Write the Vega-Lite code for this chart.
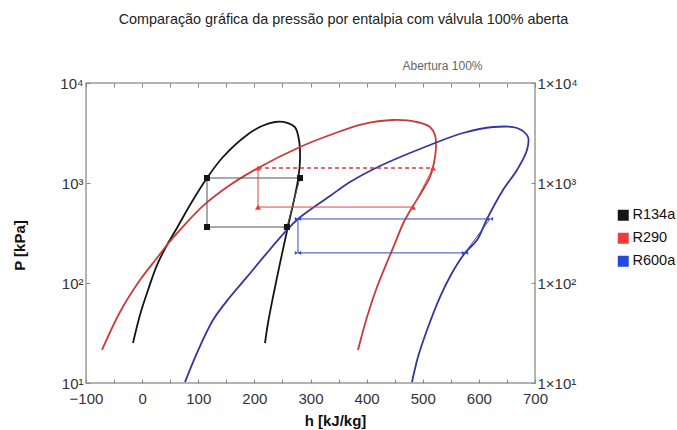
{
  "$schema": "https://vega.github.io/schema/vega-lite/v6.json",
  "width": 449,
  "height": 300,
  "autosize": {"type": "none"},
  "padding": {"left": 86, "top": 83, "right": 142, "bottom": 47},
  "background": "white",
  "title": {"text": "Comparação gráfica da pressão por entalpia com válvula 100% aberta", "fontSize": 14.4, "font": "Liberation Sans", "fontWeight": "normal", "color": "#222222", "anchor": "middle", "dx": 33, "offset": 32},
  "config": {
    "view": {"stroke": "#9a9a9a", "strokeWidth": 1.5},
    "axis": {"grid": false, "domain": false, "labelFont": "Liberation Sans", "titleFont": "Liberation Sans", "labelColor": "#333333", "tickColor": "#8a8a8a", "tickWidth": 1},
    "legend": {"symbolType": "square"}
  },
  "datasets": {
    "domes": [
      {"s": "R134a dome", "i": 1, "h": -16.3, "P": 25.1},
      {"s": "R134a dome", "i": 2, "h": -3.8, "P": 47.9},
      {"s": "R134a dome", "i": 3, "h": 10.5, "P": 85.1},
      {"s": "R134a dome", "i": 4, "h": 26.5, "P": 151},
      {"s": "R134a dome", "i": 5, "h": 44.3, "P": 240},
      {"s": "R134a dome", "i": 6, "h": 62.1, "P": 355},
      {"s": "R134a dome", "i": 7, "h": 85.3, "P": 603},
      {"s": "R134a dome", "i": 8, "h": 115.6, "P": 1122},
      {"s": "R134a dome", "i": 9, "h": 144.1, "P": 1820},
      {"s": "R134a dome", "i": 10, "h": 186.9, "P": 3020},
      {"s": "R134a dome", "i": 11, "h": 213.6, "P": 3715},
      {"s": "R134a dome", "i": 12, "h": 236.7, "P": 4074},
      {"s": "R134a dome", "i": 13, "h": 257.0, "P": 4020},
      {"s": "R134a dome", "i": 14, "h": 272.5, "P": 3600},
      {"s": "R134a dome", "i": 15, "h": 279.5, "P": 2692},
      {"s": "R134a dome", "i": 16, "h": 281.3, "P": 1698},
      {"s": "R134a dome", "i": 17, "h": 277.7, "P": 1072},
      {"s": "R134a dome", "i": 18, "h": 270.6, "P": 676},
      {"s": "R134a dome", "i": 19, "h": 261.7, "P": 407},
      {"s": "R134a dome", "i": 20, "h": 254.6, "P": 269},
      {"s": "R134a dome", "i": 21, "h": 245.7, "P": 158},
      {"s": "R134a dome", "i": 22, "h": 233.2, "P": 72.4},
      {"s": "R134a dome", "i": 23, "h": 224.3, "P": 39.8},
      {"s": "R134a dome", "i": 24, "h": 218.9, "P": 25.1},
      {"s": "R290 dome", "i": 1, "h": -71.5, "P": 21.4},
      {"s": "R290 dome", "i": 2, "h": -39.4, "P": 51.3},
      {"s": "R290 dome", "i": 3, "h": -3.8, "P": 107},
      {"s": "R290 dome", "i": 4, "h": 26.5, "P": 178},
      {"s": "R290 dome", "i": 5, "h": 44.3, "P": 240},
      {"s": "R290 dome", "i": 6, "h": 67.5, "P": 339},
      {"s": "R290 dome", "i": 7, "h": 108.5, "P": 590},
      {"s": "R290 dome", "i": 8, "h": 156.6, "P": 955},
      {"s": "R290 dome", "i": 9, "h": 206.5, "P": 1413},
      {"s": "R290 dome", "i": 10, "h": 281.3, "P": 2291},
      {"s": "R290 dome", "i": 11, "h": 334.7, "P": 3020},
      {"s": "R290 dome", "i": 12, "h": 393.5, "P": 3890},
      {"s": "R290 dome", "i": 13, "h": 447, "P": 4266},
      {"s": "R290 dome", "i": 14, "h": 489.8, "P": 4074},
      {"s": "R290 dome", "i": 15, "h": 512.9, "P": 3631},
      {"s": "R290 dome", "i": 16, "h": 521.8, "P": 3020},
      {"s": "R290 dome", "i": 17, "h": 523.6, "P": 2291},
      {"s": "R290 dome", "i": 18, "h": 520, "P": 1585},
      {"s": "R290 dome", "i": 19, "h": 512.9, "P": 1148},
      {"s": "R290 dome", "i": 20, "h": 497.0, "P": 794},
      {"s": "R290 dome", "i": 21, "h": 481.5, "P": 575},
      {"s": "R290 dome", "i": 22, "h": 465.5, "P": 398},
      {"s": "R290 dome", "i": 23, "h": 450.6, "P": 251},
      {"s": "R290 dome", "i": 24, "h": 438.1, "P": 170},
      {"s": "R290 dome", "i": 25, "h": 418.5, "P": 91.2},
      {"s": "R290 dome", "i": 26, "h": 400.7, "P": 45.7},
      {"s": "R290 dome", "i": 27, "h": 384.6, "P": 21.4},
      {"s": "R600a dome", "i": 1, "h": 76.4, "P": 10.2},
      {"s": "R600a dome", "i": 2, "h": 97.8, "P": 20.0},
      {"s": "R600a dome", "i": 3, "h": 126.3, "P": 42.7},
      {"s": "R600a dome", "i": 4, "h": 156.6, "P": 72.4},
      {"s": "R600a dome", "i": 5, "h": 186.9, "P": 115},
      {"s": "R600a dome", "i": 6, "h": 222.5, "P": 200},
      {"s": "R600a dome", "i": 7, "h": 258.1, "P": 339},
      {"s": "R600a dome", "i": 8, "h": 277.7, "P": 437},
      {"s": "R600a dome", "i": 9, "h": 334.7, "P": 741},
      {"s": "R600a dome", "i": 10, "h": 370.4, "P": 1023},
      {"s": "R600a dome", "i": 11, "h": 423.8, "P": 1479},
      {"s": "R600a dome", "i": 12, "h": 512.9, "P": 2399},
      {"s": "R600a dome", "i": 13, "h": 571.7, "P": 3162},
      {"s": "R600a dome", "i": 14, "h": 625.2, "P": 3631},
      {"s": "R600a dome", "i": 15, "h": 667.9, "P": 3548},
      {"s": "R600a dome", "i": 16, "h": 687.5, "P": 2884},
      {"s": "R600a dome", "i": 17, "h": 685.7, "P": 2138},
      {"s": "R600a dome", "i": 18, "h": 667.9, "P": 1349},
      {"s": "R600a dome", "i": 19, "h": 643, "P": 851},
      {"s": "R600a dome", "i": 20, "h": 614.5, "P": 437},
      {"s": "R600a dome", "i": 21, "h": 596.7, "P": 269},
      {"s": "R600a dome", "i": 22, "h": 575.3, "P": 200},
      {"s": "R600a dome", "i": 23, "h": 552.1, "P": 126},
      {"s": "R600a dome", "i": 24, "h": 530.7, "P": 72.4},
      {"s": "R600a dome", "i": 25, "h": 507.6, "P": 33.9},
      {"s": "R600a dome", "i": 26, "h": 491.5, "P": 18.2},
      {"s": "R600a dome", "i": 27, "h": 480.8, "P": 10.2}
    ],
    "cycles": [
      {"s": "R134a cycle", "i": 1, "h": 258, "P": 363},
      {"s": "R134a cycle", "i": 2, "h": 281.3, "P": 1122},
      {"s": "R134a cycle", "i": 3, "h": 115.6, "P": 1122},
      {"s": "R134a cycle", "i": 4, "h": 115.6, "P": 363},
      {"s": "R134a cycle", "i": 5, "h": 258, "P": 363},
      {"s": "R290 cycle", "i": 1, "h": 518.3, "P": 1413},
      {"s": "R290 cycle", "i": 2, "h": 482.6, "P": 575},
      {"s": "R290 cycle", "i": 3, "h": 206.5, "P": 575},
      {"s": "R290 cycle", "i": 4, "h": 206.5, "P": 1413},
      {"s": "R600a cycle", "i": 1, "h": 619.8, "P": 437},
      {"s": "R600a cycle", "i": 2, "h": 277.7, "P": 437},
      {"s": "R600a cycle", "i": 3, "h": 277.7, "P": 200},
      {"s": "R600a cycle", "i": 4, "h": 575.3, "P": 200},
      {"s": "R600a cycle", "i": 5, "h": 619.8, "P": 437}
    ],
    "dashes": [
      {"s": "R290 dash", "i": 1, "h": 206.5, "P": 1413},
      {"s": "R290 dash", "i": 2, "h": 518.3, "P": 1413}
    ],
    "markers": [
      {"fluid": "R134a", "h": 115.6, "P": 1122},
      {"fluid": "R134a", "h": 281.3, "P": 1122},
      {"fluid": "R134a", "h": 115.6, "P": 363},
      {"fluid": "R134a", "h": 258, "P": 363},
      {"fluid": "R290", "h": 206.5, "P": 1413},
      {"fluid": "R290", "h": 518.3, "P": 1413},
      {"fluid": "R290", "h": 206.5, "P": 575},
      {"fluid": "R290", "h": 482.6, "P": 575},
      {"fluid": "R600a", "h": 277.7, "P": 437},
      {"fluid": "R600a", "h": 619.8, "P": 437},
      {"fluid": "R600a", "h": 277.7, "P": 200},
      {"fluid": "R600a", "h": 575.3, "P": 200}
    ]
  },
  "resolve": {"axis": {"x": "independent", "y": "independent"}},
  "layer": [
    {
      "data": {"name": "domes"},
      "mark": {"type": "line", "strokeWidth": 1.8, "clip": true, "interpolate": "catmull-rom"},
      "encoding": {
        "x": {"field": "h", "type": "quantitative", "scale": {"domain": [-100, 700], "nice": false, "zero": false},
          "axis": {"orient": "bottom", "values": [-100, -50, 0, 50, 100, 150, 200, 250, 300, 350, 400, 450, 500, 550, 600, 650, 700], "labelExpr": "datum.value % 100 === 0 ? datum.label : ''", "tickSize": -4, "labelPadding": 12, "labelFontSize": 15, "labelFlush": false, "title": "h [kJ/kg]", "titleFontSize": 15, "titleFontWeight": "bold", "titleColor": "#111111", "titleX": 249, "titleY": 37, "titleBaseline": "middle", "titleAlign": "center"}},
        "y": {"field": "P", "type": "quantitative", "scale": {"type": "log", "domain": [10, 10000], "nice": false},
          "axis": {"orient": "left", "values": [10, 100, 1000, 10000], "labelExpr": "'10' + (datum.value == 10 ? '¹' : datum.value == 100 ? '²' : datum.value == 1000 ? '³' : '⁴')", "tickSize": -4, "labelPadding": 7, "labelFontSize": 15, "labelFlush": false, "title": "P [kPa]", "titleFontSize": 15, "titleFontWeight": "bold", "titleColor": "#111111", "titleX": -67, "titleY": 162, "titleAngle": 270, "titleAlign": "center", "titleBaseline": "middle"}},
        "stroke": {"field": "s", "type": "nominal", "legend": null,
          "scale": {"domain": ["R134a dome", "R290 dome", "R600a dome", "R134a cycle", "R290 cycle", "R600a cycle", "R290 dash"], "range": ["#151515", "#c93a3a", "#35359e", "#555555", "#d84848", "#3a48b8", "#d83a3a"]}},
        "order": {"field": "i", "type": "quantitative"}
      }
    },
    {
      "data": {"name": "cycles"},
      "mark": {"type": "line", "strokeWidth": 1},
      "encoding": {
        "x": {"field": "h", "type": "quantitative",
          "axis": {"orient": "top", "values": [-100, -50, 0, 50, 100, 150, 200, 250, 300, 350, 400, 450, 500, 550, 600, 650, 700], "labels": false, "tickSize": -4, "title": "Abertura 100%", "titleFontSize": 12, "titleFontWeight": "normal", "titleColor": "#666666", "titleX": 356, "titleY": -18, "titleBaseline": "middle", "titleAlign": "center"}},
        "y": {"field": "P", "type": "quantitative",
          "axis": {"orient": "right", "values": [10, 100, 1000, 10000], "labelExpr": "'1×10' + (datum.value == 10 ? '¹' : datum.value == 100 ? '²' : datum.value == 1000 ? '³' : '⁴')", "tickSize": -4, "labelPadding": 6, "labelFontSize": 15, "labelFlush": false, "title": null}},
        "stroke": {"field": "s", "type": "nominal", "legend": null},
        "order": {"field": "i", "type": "quantitative"}
      }
    },
    {
      "data": {"name": "dashes"},
      "mark": {"type": "line", "strokeWidth": 1.3, "strokeDash": [4, 3]},
      "encoding": {
        "x": {"field": "h", "type": "quantitative", "axis": null},
        "y": {"field": "P", "type": "quantitative", "axis": null},
        "stroke": {"field": "s", "type": "nominal", "legend": null},
        "order": {"field": "i", "type": "quantitative"}
      }
    },
    {
      "data": {"name": "markers"},
      "transform": [{"filter": "datum.fluid == 'R134a'"}],
      "mark": {"type": "point", "filled": true, "opacity": 1, "size": 36, "shape": "square"},
      "encoding": {
        "x": {"field": "h", "type": "quantitative", "axis": null},
        "y": {"field": "P", "type": "quantitative", "axis": null},
        "color": {"field": "fluid", "type": "nominal",
          "scale": {"domain": ["R134a", "R290", "R600a"], "range": ["#151515", "#ee3b3b", "#2448e0"]},
          "legend": {"title": null, "orient": "none", "legendX": 530, "legendY": 125, "symbolType": "square", "symbolSize": 121, "symbolStrokeWidth": 0, "symbolOpacity": 1, "labelFont": "Liberation Sans", "labelFontSize": 14.5, "labelColor": "#111111", "labelOffset": 2, "rowPadding": 8}}
      }
    },
    {
      "data": {"name": "markers"},
      "transform": [{"filter": "datum.fluid == 'R290'"}],
      "mark": {"type": "point", "filled": true, "opacity": 1, "size": 36, "shape": "triangle-up"},
      "encoding": {
        "x": {"field": "h", "type": "quantitative", "axis": null},
        "y": {"field": "P", "type": "quantitative", "axis": null},
        "color": {"field": "fluid", "type": "nominal",
          "legend": {"title": null, "orient": "none", "legendX": 530, "legendY": 125, "symbolType": "square", "symbolSize": 121, "symbolStrokeWidth": 0, "symbolOpacity": 1, "labelFont": "Liberation Sans", "labelFontSize": 14.5, "labelColor": "#111111", "labelOffset": 2, "rowPadding": 8}}
      }
    },
    {
      "data": {"name": "markers"},
      "transform": [{"filter": "datum.fluid == 'R600a'"}],
      "mark": {"type": "point", "filled": true, "opacity": 1, "size": 40, "shape": "M-1,-0.6L0,0L-1,0.6Z M1,-0.6L0,0L1,0.6Z"},
      "encoding": {
        "x": {"field": "h", "type": "quantitative", "axis": null},
        "y": {"field": "P", "type": "quantitative", "axis": null},
        "color": {"field": "fluid", "type": "nominal",
          "legend": {"title": null, "orient": "none", "legendX": 530, "legendY": 125, "symbolType": "square", "symbolSize": 121, "symbolStrokeWidth": 0, "symbolOpacity": 1, "labelFont": "Liberation Sans", "labelFontSize": 14.5, "labelColor": "#111111", "labelOffset": 2, "rowPadding": 8}}
      }
    }
  ]
}
